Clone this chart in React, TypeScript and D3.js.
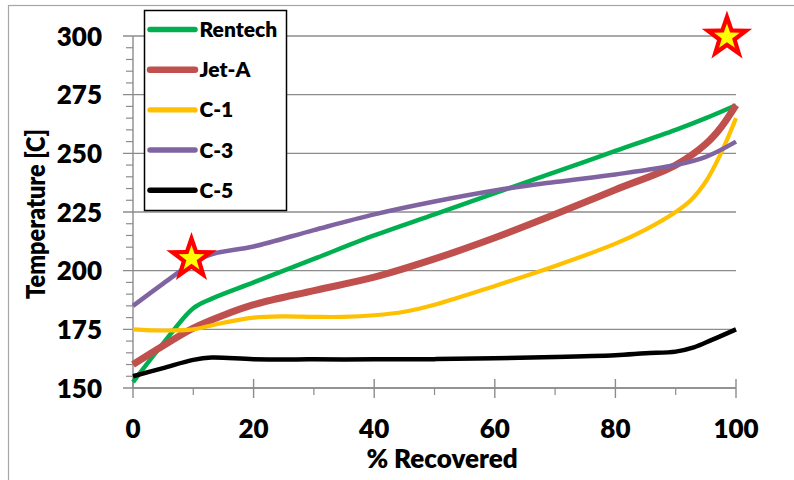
import React from "react";
import * as d3 from "d3";

const seriesNames = ["Rentech", "Jet-A", "C-1", "C-3", "C-5"];
const seriesColors = ["#00B050", "#C0504D", "#FFC000", "#8064A2", "#000000"];
const seriesWidths = [4.5, 7, 4.2, 4.5, 4.5];

const rentechX = [0, 5, 10, 13, 20, 30, 40, 50, 60, 70, 80, 90, 95, 100];
const rentechY = [152.5, 169, 184, 188, 195, 205, 215, 224, 233, 242, 251, 260, 265, 270.5];

const jetAX = [0, 5, 10, 15, 20, 30, 40, 50, 60, 70, 80, 90, 95, 97.5, 100];
const jetAY = [160, 168, 175.5, 181, 185.5, 191.5, 197.2, 205, 214, 224, 234.5, 245, 254, 261, 270.5];

const c1X = [0, 5, 10, 15, 20, 25, 30, 35, 40, 45, 50, 60, 70, 80, 85, 90, 92.5, 95, 97.5, 100];
const c1Y = [175, 174.5, 175, 177.8, 180, 180.5, 180.3, 180.3, 181, 182.5, 185.5, 193.5, 202, 211.5, 217.5, 225, 230, 238, 250, 265];

const c3X = [0, 5, 10, 13, 20, 30, 40, 50, 60, 70, 80, 90, 95, 100];
const c3Y = [185, 194.5, 203.5, 207, 210.3, 217.3, 224, 229.5, 234.2, 237.8, 241, 245, 248.5, 255];

const c5X = [0, 5, 10, 13, 20, 30, 40, 50, 60, 70, 80, 85, 90, 93, 96, 100];
const c5Y = [155, 158.5, 162, 163, 162.3, 162.2, 162.2, 162.3, 162.7, 163.2, 164, 164.8, 165.5, 167.3, 170.5, 175];

const seriesX = [rentechX, jetAX, c1X, c3X, c5X];
const seriesY = [rentechY, jetAY, c1Y, c3Y, c5Y];

const starX = [9.7, 98.5];
const starY = [205.2, 299.6];

const xTicks = [0, 20, 40, 60, 80, 100];
const yTicks = [150, 175, 200, 225, 250, 275, 300];

const xTitle = "% Recovered";
const yTitle = "Temperature [C]";

function starPath(cx: number, cy: number, R: number, r: number) {
  const pts: string[] = [];
  for (let i = 0; i < 10; i++) {
    const rad = i % 2 === 0 ? R : r;
    const a = -Math.PI / 2 + (i * Math.PI) / 5;
    pts.push(`${cx + rad * Math.cos(a)},${cy + rad * Math.sin(a)}`);
  }
  return "M" + pts.join("L") + "Z";
}

export default function App() {
  const W = 794, H = 480;
  const x = d3.scaleLinear().domain([0, 100]).range([133, 736]);
  const y = d3.scaleLinear().domain([150, 300]).range([388, 36]);
  const font = "Lato, 'Open Sans', sans-serif";
  const grid = "#8c8c8c";
  const fw = 800;

  const line = d3
    .line<[number, number]>()
    .x((d) => x(d[0]))
    .y((d) => y(d[1]))
    .curve(d3.curveCatmullRom.alpha(0.5));

  const minorX = d3.range(10, 100, 20);
  const minorY = d3.range(150, 301, 5).filter((v) => v % 25 !== 0);

  return (
    <svg width={W} height={H} style={{ position: "absolute", left: 0, top: 0 }} fontFamily={font}>
      <rect x={0} y={0} width={W} height={H} fill="#fff" />
      <rect x={8.5} y={5.5} width={1000} height={1000} fill="none" stroke="#a6a6a6" strokeWidth={1.2} />

      {/* gridlines */}
      {yTicks.map((t) => (
        <line key={"g" + t} x1={123} x2={x(100)} y1={y(t)} y2={y(t)} stroke={grid} strokeWidth={1.4} />
      ))}
      {minorY.map((t) => (
        <line key={"my" + t} x1={126} x2={x(0)} y1={y(t)} y2={y(t)} stroke={grid} strokeWidth={1.2} />
      ))}
      {/* y axis */}
      <line x1={x(0)} x2={x(0)} y1={y(300)} y2={y(150)} stroke={grid} strokeWidth={1.4} />
      {/* x axis */}
      <line x1={x(0)} x2={x(100)} y1={y(150)} y2={y(150)} stroke={grid} strokeWidth={1.4} />
      {xTicks.map((t) => (
        <line key={"xt" + t} x1={x(t)} x2={x(t)} y1={379} y2={398} stroke={grid} strokeWidth={1.4} />
      ))}
      {minorX.map((t) => (
        <line key={"mx" + t} x1={x(t)} x2={x(t)} y1={388} y2={395} stroke={grid} strokeWidth={1.2} />
      ))}

      {/* tick labels */}
      {yTicks.map((t) => (
        <text key={"yl" + t} x={102} y={y(t) + 9.5} textAnchor="end" fontSize={26} fontWeight={fw} fill="#000">
          {t}
        </text>
      ))}
      {xTicks.map((t) => (
        <text key={"xl" + t} x={x(t)} y={437.5} textAnchor="middle" fontSize={26} fontWeight={fw} fill="#000">
          {t}
        </text>
      ))}

      {/* axis titles */}
      <text x={442} y={468} textAnchor="middle" fontSize={26} fontWeight={fw} fill="#000">
        {xTitle}
      </text>
      <text
        transform={`translate(45,${214}) rotate(-90)`}
        textAnchor="middle"
        fontSize={26}
        fontWeight={fw}
        fill="#000"
        textLength={170}
        lengthAdjust="spacingAndGlyphs"
      >
        {yTitle}
      </text>

      {/* legend box (above grid) */}
      <rect x={144.5} y={10.5} width={142} height={200} fill="#fff" stroke="#000" strokeWidth={1.5} />
      {seriesNames.map((n, i) => {
        const ly = 29.5 + i * 40.2;
        return (
          <g key={"lg" + n}>
            <line x1={150} x2={195} y1={ly} y2={ly} stroke={seriesColors[i]} strokeWidth={Math.min(seriesWidths[i] + 1, 6.5)} strokeLinecap="round" />
            <text x={199.5} y={ly + 7.5} fontSize={21} fontWeight={fw} fill="#000">
              {n}
            </text>
          </g>
        );
      })}

      {/* series */}
      {seriesNames.map((n, i) => {
        const pts: [number, number][] = seriesX[i].map((v, k) => [v, seriesY[i][k]]);
        return (
          <path key={"s" + n} d={line(pts) || ""} fill="none" stroke={seriesColors[i]} strokeWidth={seriesWidths[i]} strokeLinejoin="round" />
        );
      })}

      {/* stars */}
      {starX.map((sx, i) => (
        <g key={"st" + i}>
          <path d={starPath(x(sx), y(starY[i]), 26.5, 10.5)} fill="#FF0000" />
          <path d={starPath(x(sx), y(starY[i]), 13.5, 5.4)} fill="#FFFF00" />
        </g>
      ))}
    </svg>
  );
}
